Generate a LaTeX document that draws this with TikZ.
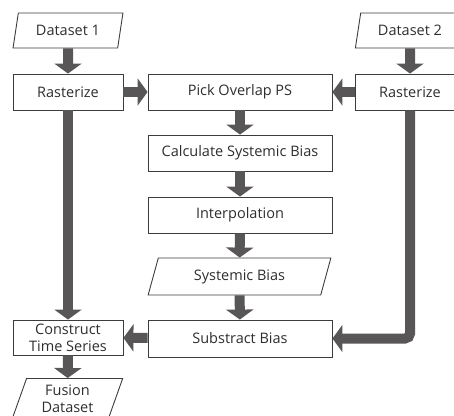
\documentclass[tikz,border=0pt]{standalone}
\usepackage{fontspec}
\setmainfont{Open Sans}
\usetikzlibrary{arrows.meta,shapes.geometric}
\definecolor{arr}{HTML}{585656}
\definecolor{bd}{HTML}{3C3C3C}
\definecolor{txt}{HTML}{2E2E2E}
\begin{document}
\begin{tikzpicture}[x=1pt,y=-1pt,
  box/.style={draw=bd, line width=0.9pt, minimum height=36pt, inner sep=0pt,
    align=center, text=txt, font=\fontsize{14.5}{17}\selectfont},
  para/.style={box, trapezium, trapezium left angle=72, trapezium right angle=108,
    trapezium stretches=true},
  flow/.style={draw=arr, line width=10pt, -{Triangle[width=27pt,length=10pt]}}]
\useasboundingbox (0,0) rectangle (454,415);
\clip (0,0) rectangle (454,415);
% left column
\node[para, minimum width=110pt, minimum height=35pt] (d1) at (68,30.5) {Dataset 1};
\node[box, minimum width=110pt] (r1) at (68,92) {Rasterize};
\node[box, minimum width=110pt, minimum height=35pt] (cts) at (68,337.5) {Construct\\Time Series};
\node[para, minimum width=111pt, minimum height=40pt] (fus) at (67.5,398.5) {Fusion\\Dataset};
% middle column
\node[box, minimum width=184pt] (pick) at (240,92) {Pick Overlap PS};
\node[box, minimum width=184pt] (calc) at (240,153) {Calculate Systemic Bias};
\node[box, minimum width=184pt] (interp) at (240,215) {Interpolation};
\node[para, trapezium left angle=68, trapezium right angle=112, minimum width=183pt, minimum height=37pt] (sys) at (239.5,276.5) {Systemic Bias};
\node[box, minimum width=184pt, minimum height=37pt] (sub) at (240,338.5) {Substract Bias};
% right column
\node[para, minimum width=110pt, minimum height=35pt] (d2) at (410,30.5) {Dataset 2};
\node[box, minimum width=110pt] (r2) at (410,92) {Rasterize};
% connectors
\draw[flow] (d1) -- (r1);
\draw[flow] (r1) -- (cts);
\draw[flow] (r1) -- (pick);
\draw[flow] (d2) -- (r2);
\draw[flow] (r2) -- (pick);
\draw[flow] (pick) -- (calc);
\draw[flow] (calc) -- (interp);
\draw[flow] (interp) -- (sys);
\draw[flow] (sys) -- (sub);
\draw[flow, rounded corners=5pt] (r2.south) |- (sub.east);
\draw[flow] (sub) -- (cts);
\draw[flow] (cts) -- (fus);
\end{tikzpicture}
\end{document}
